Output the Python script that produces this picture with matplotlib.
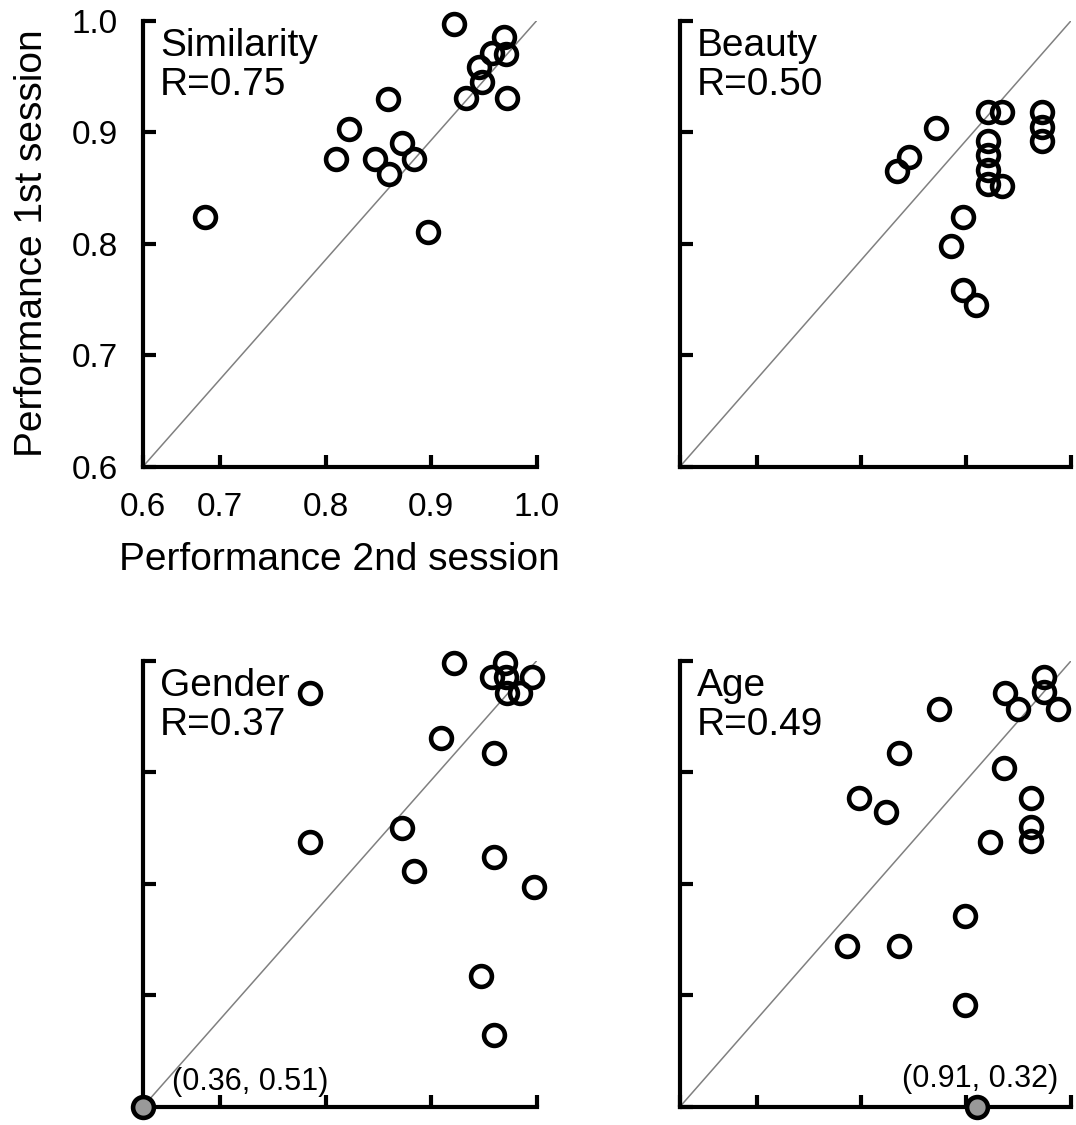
import numpy as np
import matplotlib.pyplot as plt

plt.rcParams['font.family'] = ['Liberation Sans', 'DejaVu Sans']

# performance in 2nd session (x) vs 1st session (y), one point per participant
sim_x = [0.922, 0.969, 0.971, 0.958, 0.945, 0.948, 0.933, 0.972, 0.859, 0.822,
         0.872, 0.810, 0.847, 0.884, 0.860, 0.686, 0.897]
sim_y = [0.997, 0.985, 0.970, 0.971, 0.958, 0.945, 0.931, 0.931, 0.930, 0.903,
         0.890, 0.876, 0.876, 0.876, 0.862, 0.824, 0.810]

bea_x = [0.921, 0.934, 0.972, 0.972, 0.972, 0.871, 0.845, 0.834, 0.921, 0.921,
         0.921, 0.921, 0.934, 0.897, 0.885, 0.897, 0.909]
bea_y = [0.918, 0.918, 0.918, 0.905, 0.892, 0.904, 0.878, 0.865, 0.892, 0.879,
         0.866, 0.853, 0.852, 0.824, 0.798, 0.758, 0.745]

gen_x = [0.922, 0.970, 0.958, 0.971, 0.996, 0.972, 0.984, 0.785, 0.909, 0.960,
         0.872, 0.785, 0.960, 0.884, 0.997, 0.947, 0.960]
gen_y = [0.998, 0.998, 0.985, 0.985, 0.985, 0.971, 0.971, 0.971, 0.931, 0.917,
         0.850, 0.837, 0.824, 0.811, 0.797, 0.717, 0.664]

age_x = [0.974, 0.974, 0.937, 0.949, 0.987, 0.874, 0.836, 0.936, 0.798, 0.823,
         0.962, 0.962, 0.962, 0.923, 0.899, 0.786, 0.836, 0.899]
age_y = [0.985, 0.972, 0.971, 0.957, 0.957, 0.957, 0.917, 0.904, 0.877, 0.864,
         0.877, 0.851, 0.838, 0.837, 0.771, 0.744, 0.744, 0.691]

names = ['Similarity', 'Beauty', 'Gender', 'Age']
r_vals = ['0.75', '0.50', '0.37', '0.49']
# points outside the plotted range, drawn on the axis edge in gray
outliers = [None, None, (0.36, 0.51), (0.91, 0.32)]

xs = [sim_x, bea_x, gen_x, age_x]
ys = [sim_y, bea_y, gen_y, age_y]

xmin, xmax = 0.627, 1.0
ymin, ymax = 0.6, 1.0
xticks = [xmin, 0.7, 0.8, 0.9, 1.0]
xticklabels = ['0.6', '0.7', '0.8', '0.9', '1.0']
yticks = [0.6, 0.7, 0.8, 0.9, 1.0]

fig = plt.figure(figsize=(10.76, 11.25), dpi=100)
boxes = [[0.1329, 0.5853, 0.3659, 0.3964],
         [0.6320, 0.5853, 0.3635, 0.3964],
         [0.1329, 0.0163, 0.3659, 0.3964],
         [0.6320, 0.0163, 0.3635, 0.3964]]

for i in range(4):
    ax = fig.add_axes(boxes[i])
    ax.set_xlim(xmin, xmax)
    ax.set_ylim(ymin, ymax)
    ax.plot([0, 1], [0, 1], transform=ax.transAxes, color='#808080', lw=1.1, zorder=1)
    ax.plot(xs[i], ys[i], 'o', ms=15, mfc='none', mec='black', mew=3.3,
            clip_on=False, zorder=3)
    if outliers[i] is not None:
        ox, oy = outliers[i]
        ax.plot(np.clip(ox, xmin, xmax), np.clip(oy, ymin, ymax), 'o', ms=15,
                mfc='#999999', mec='black', mew=3.3, clip_on=False, zorder=4)
        if i == 2:
            ax.text(0.074, 0.055, '(%.2f, %.2f)' % (ox, oy), transform=ax.transAxes,
                    fontsize=22, ha='left', va='center')
        else:
            ax.text(0.967, 0.062, '(%.2f, %.2f)' % (ox, oy), transform=ax.transAxes,
                    fontsize=22, ha='right', va='center')
    ax.text(0.043, 0.983, names[i] + '\nR=' + r_vals[i], transform=ax.transAxes,
            fontsize=28, ha='left', va='top', linespacing=1.1)

    for s in ['top', 'right']:
        ax.spines[s].set_visible(False)
    for s in ['left', 'bottom']:
        ax.spines[s].set_linewidth(3)
    ax.set_xticks(xticks)
    ax.set_yticks(yticks)
    ax.tick_params(direction='in', length=9, width=3, labelsize=24)
    ax.tick_params(axis='x', pad=18)
    ax.tick_params(axis='y', pad=18)
    if i == 0:
        ax.set_xticklabels(xticklabels)
        ax.set_yticklabels(['%.1f' % t for t in yticks])
        ax.set_xlabel('Performance 2nd session', fontsize=28, labelpad=14)
        ax.set_ylabel('Performance 1st session', fontsize=28, labelpad=16)
    else:
        ax.set_xticklabels([])
        ax.set_yticklabels([])

plt.savefig('out.png', dpi=100)
